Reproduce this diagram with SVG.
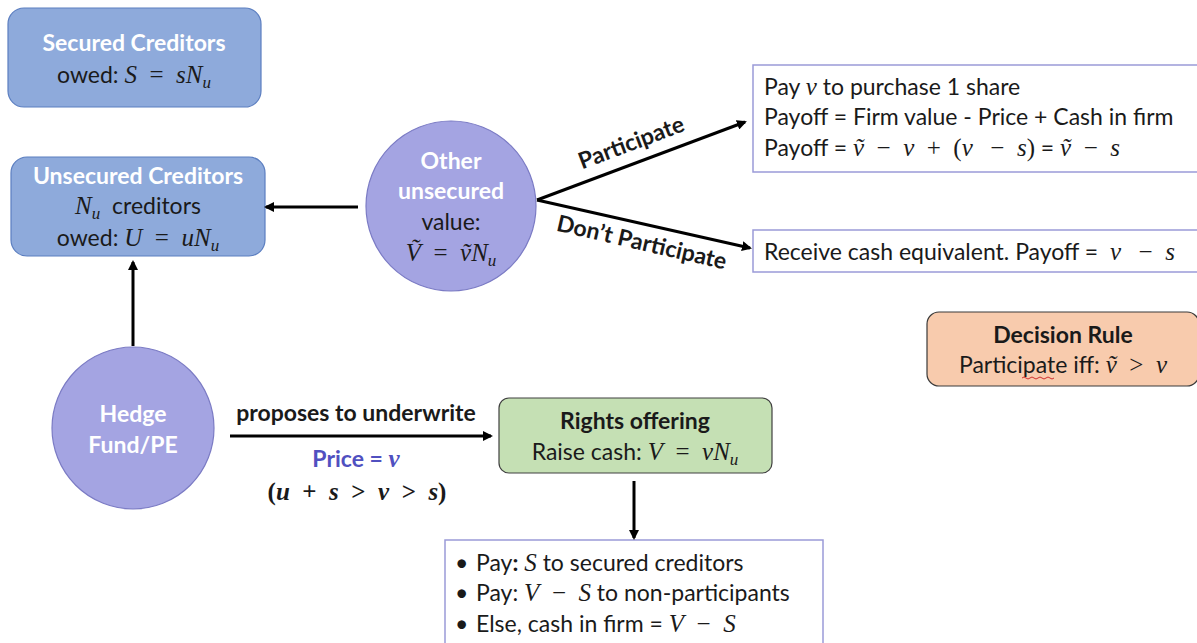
<svg xmlns="http://www.w3.org/2000/svg" width="1197" height="643" viewBox="0 0 1197 643">
<defs>
<marker id="ah" markerWidth="10" markerHeight="10" refX="8" refY="5" orient="auto" markerUnits="userSpaceOnUse" viewBox="0 0 10 10">
<path d="M0,0 L10,5 L0,10 z" fill="#000"/>
</marker>
</defs>
<style>
text{font-family:Lato,"Open Sans","Liberation Sans",sans-serif;font-size:23px;fill:#1a1a1a}
.c{text-anchor:middle}
.b{font-weight:bold}
.w{fill:#fff;font-weight:bold}
.m{font-family:"Liberation Serif","DejaVu Serif",serif;font-style:italic;font-size:25px}
.mr{font-family:"Liberation Serif","DejaVu Serif",serif;font-size:25px}
.sub{font-family:"Liberation Serif","DejaVu Serif",serif;font-style:italic;font-size:17px}
.blue{fill:#8eaadb;stroke:#5b7ec0;stroke-width:1.2}
.circ{fill:#a4a4e2;stroke:#7b7bc4;stroke-width:1.2}
.out{fill:#fff;stroke:#9a9ad8;stroke-width:1.5}
.conn line{stroke:#000;stroke-width:3;marker-end:url(#ah)}
</style>
<rect width="1197" height="643" fill="#fff"/>

<g id="secured">
<rect class="blue" x="8" y="8" width="253" height="99" rx="16"/>
<text class="c w" x="134" y="51">Secured Creditors</text>
<text class="c" x="134" y="83">owed: <tspan class="m">S</tspan><tspan class="mr">&#8194;=&#8194;</tspan><tspan class="m">sN</tspan><tspan class="sub" dy="5">u</tspan></text>
</g>

<g id="unsecured">
<rect class="blue" x="11" y="157" width="254" height="99" rx="16"/>
<text class="c w" x="138" y="184">Unsecured Creditors</text>
<text class="c" x="138" y="214"><tspan class="m">N</tspan><tspan class="sub" dy="5">u</tspan><tspan dy="-5">&#160; creditors</tspan></text>
<text class="c" x="138" y="246">owed: <tspan class="m">U</tspan><tspan class="mr">&#8194;=&#8194;</tspan><tspan class="m">uN</tspan><tspan class="sub" dy="5">u</tspan></text>
</g>

<g id="other">
<circle class="circ" cx="451" cy="206" r="85"/>
<text class="c w" x="451" y="169">Other</text>
<text class="c w" x="451" y="199">unsecured</text>
<text class="c" x="451" y="230">value:</text>
<text class="c" x="451" y="261"><tspan class="m">Ṽ</tspan><tspan class="mr">&#8194;=&#8194;</tspan><tspan class="m">ṽN</tspan><tspan class="sub" dy="5">u</tspan></text>
</g>

<g id="participate-box">
<rect class="out" x="753" y="65" width="450" height="107"/>
<text x="764" y="95">Pay <tspan class="m">v</tspan> to purchase 1 share</text>
<text x="764" y="125">Payoff = Firm value - Price + Cash in firm</text>
<text x="764" y="156">Payoff = <tspan class="m">ṽ</tspan><tspan class="mr">&#8194;−&#8194;</tspan><tspan class="m">v</tspan><tspan class="mr">&#8194;+&#8194;(</tspan><tspan class="m">v</tspan><tspan class="mr">&#8194;&#8201;−&#8194;</tspan><tspan class="m">s</tspan><tspan class="mr">)</tspan> = <tspan class="m">ṽ</tspan><tspan class="mr">&#8194;−&#8194;</tspan><tspan class="m">s</tspan></text>
</g>

<g id="dont-box">
<rect class="out" x="753" y="230" width="450" height="42"/>
<text x="764" y="260">Receive cash equivalent. Payoff =&#160; <tspan class="m">v</tspan><tspan class="mr">&#8194;&#8201;−&#8194;</tspan><tspan class="m">s</tspan></text>
</g>

<g id="decision">
<rect x="927" y="312" width="272" height="74" rx="12" fill="#f8cbad" stroke="#3a3a3a" stroke-width="1.2"/>
<text class="c b" x="1063" y="343">Decision Rule</text>
<text class="c" x="1063" y="373">Participate iff: <tspan class="m">ṽ</tspan><tspan class="mr">&#8194;&gt;&#8194;</tspan><tspan class="m">v</tspan></text>
<path d="M1022,378 q2,-2 4,0 t4,0 t4,0 t4,0 t4,0 t4,0 t4,0 t4,0" fill="none" stroke="#d03030" stroke-width="1"/>
</g>

<g id="hedge">
<circle class="circ" cx="133" cy="428" r="81"/>
<text class="c w" x="133" y="422">Hedge</text>
<text class="c w" x="133" y="453">Fund/PE</text>
</g>

<g id="rights">
<rect x="499" y="398" width="273" height="75" rx="10" fill="#c5e0b4" stroke="#404040" stroke-width="1.2"/>
<text class="c b" x="635" y="429">Rights offering</text>
<text class="c" x="635" y="460">Raise cash: <tspan class="m">V</tspan><tspan class="mr">&#8194;=&#8194;</tspan><tspan class="m">vN</tspan><tspan class="sub" dy="5">u</tspan></text>
</g>

<g id="payments">
<rect class="out" x="445" y="540" width="378" height="110"/>
<text x="455" y="571" font-size="18">•</text><text x="476" y="571">Pay<tspan class="b">:</tspan> <tspan class="m">S</tspan> to secured creditors</text>
<text x="455" y="601" font-size="18">•</text><text x="476" y="601">Pay: <tspan class="m">V</tspan><tspan class="mr">&#8194;−&#8194;</tspan><tspan class="m">S</tspan> to non-participants</text>
<text x="455" y="632" font-size="18">•</text><text x="476" y="632">Else, cash in firm = <tspan class="m">V</tspan><tspan class="mr">&#8194;−&#8194;</tspan><tspan class="m">S</tspan></text>
</g>

<g id="connectors" class="conn">
<line x1="358" y1="207" x2="266" y2="207"/>
<line x1="537" y1="200" x2="745" y2="122"/>
<line x1="537" y1="200" x2="750" y2="248"/>
<line x1="133" y1="346" x2="133" y2="262"/>
<line x1="230" y1="436" x2="491" y2="436"/>
<line x1="634" y1="481" x2="634" y2="538"/>
</g>

<g id="labels">
<text class="c b" x="634" y="150" font-size="18" transform="rotate(-20.6 634 150)">Participate</text>
<text class="c b" x="640" y="250" font-size="18" transform="rotate(13 640 250)">Don’t Participate</text>
<text class="c b" x="356" y="421" font-size="24">proposes to underwrite</text>
<text class="c b" x="356" y="467" style="fill:#5050c0">Price = <tspan class="m" style="fill:#5050c0">v</tspan></text>
<text class="c b mr" x="357" y="500" font-size="27">(<tspan class="m" font-size="27">u</tspan>&#8194;+&#8194;<tspan class="m" font-size="27">s</tspan>&#8194;&gt;&#8194;<tspan class="m" font-size="27">v</tspan>&#8194;&gt;&#8194;<tspan class="m" font-size="27">s</tspan>)</text>
</g>
</svg>
